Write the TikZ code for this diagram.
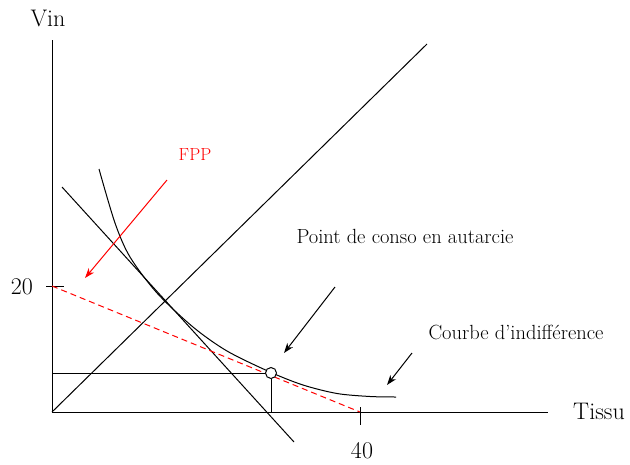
\documentclass[tikz,border=0pt]{standalone}
\usepackage{fontspec}
\setmainfont{Latin Modern Roman}
\usetikzlibrary{arrows.meta}
\begin{document}
\begin{tikzpicture}[x=1pt,y=-1pt,
  ln/.style={line width=1pt,black},
  pointer/.style={line width=1pt,-{Stealth[length=10pt,width=7pt,inset=3pt]}},
  big/.style={font=\fontsize{24}{28}\selectfont},
  lab/.style={font=\fontsize{20.5}{24}\selectfont},
  redlab/.style={font=\fontsize{17.5}{20}\selectfont,text=red}]
\useasboundingbox (0,0) rectangle (630,464);
% axes
\coordinate (O) at (52,412);
\coordinate (ytop) at (52,40);
\coordinate (xend) at (548,412);
\draw[ln] (ytop) -- (O) -- (xend);
\node[big] (vin) at (48,18) {Vin};
\node[big] (tissu) at (599,411) {Tissu};
% ticks
\coordinate (t20a) at (46,286);
\coordinate (t20b) at (64,286);
\draw[ln] (t20a) -- (t20b);
\node[big] (l20) at (22,287) {20};
\coordinate (t40a) at (360,407);
\coordinate (t40b) at (360,425);
\draw[ln] (t40a) -- (t40b);
\node[big] (l40) at (362,451) {40};
% diagonal
\coordinate (dtop) at (427,44);
\draw[ln] (O) -- (dtop);
% steep line
\coordinate (sa) at (62,187);
\coordinate (sb) at (294,442);
\draw[ln] (sa) -- (sb);
% indifference curve
\draw[ln] plot[smooth,tension=0.5] coordinates {(99,169) (115,223) (130,257) (157,293) (193,327) (227,351) (270,372) (303,385) (337,393.5) (370,396.5) (396,397)};
% red dashed
\coordinate (r20) at (52,286);
\coordinate (r40) at (360,412);
\draw[red,line width=1pt,dash pattern=on 6pt off 4pt] (r20) -- (r40);
% autarky point
\node[circle,draw,line width=1pt,fill=white,inner sep=0pt,minimum size=11pt] (P) at (271,373) {};
\coordinate (Py) at (52,373);
\coordinate (Px) at (271,412);
\draw[ln] (Py) -- (P.west);
\draw[ln] (P.south) -- (Px);
% labels and arrows
\node[redlab] (fpp) at (195,155) {FPP};
\coordinate (fa) at (167,180);
\coordinate (fb) at (85,278);
\draw[pointer,red] (fa) -- (fb);
\node[lab] (conso) at (405,236) {Point de conso en autarcie};
\coordinate (ca) at (335,287);
\coordinate (cb) at (284,353);
\draw[pointer] (ca) -- (cb);
\node[lab] (courbe) at (516,332) {Courbe d'indifférence};
\coordinate (ia) at (412,353);
\coordinate (ib) at (387,385);
\draw[pointer] (ia) -- (ib);
\end{tikzpicture}
\end{document}
